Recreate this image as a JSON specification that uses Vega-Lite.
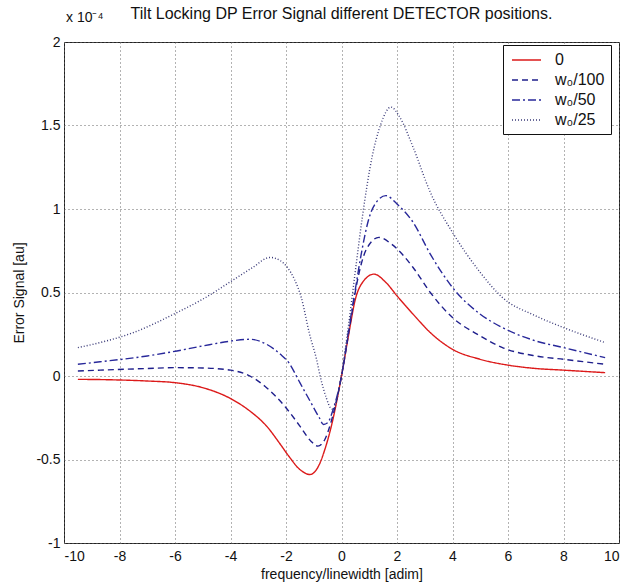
{
  "$schema": "https://vega.github.io/schema/vega-lite/v6.json",
  "width": 555,
  "height": 501,
  "autosize": {"type": "none"},
  "padding": {"left": 64, "top": 42, "right": 9, "bottom": 45},
  "background": "white",
  "config": {
    "font": "Liberation Sans",
    "view": {"stroke": "#222", "strokeWidth": 1},
    "axis": {
      "labelFont": "Liberation Sans",
      "titleFont": "Liberation Sans",
      "labelFontSize": 14,
      "titleFontSize": 14,
      "titleFontWeight": "normal",
      "labelColor": "#111",
      "titleColor": "#111",
      "domain": false,
      "ticks": false,
      "grid": true,
      "gridColor": "#666",
      "gridDash": [1, 3],
      "gridWidth": 1
    },
    "legend": {
      "title": null,
      "orient": "none",
      "legendX": 439,
      "legendY": 3,
      "fillColor": "white",
      "strokeColor": "#111",
      "padding": 6,
      "symbolType": "M-0.75,0H2.875",
      "symbolSize": 256,
      "symbolStrokeWidth": 1.4,
      "symbolFillColor": "transparent",
      "labelFontSize": 16,
      "labelFont": "Liberation Sans",
      "labelColor": "#111",
      "rowPadding": 3,
      "labelOffset": 28
    }
  },
  "title": {
    "text": "Tilt Locking DP Error Signal different DETECTOR positions.",
    "fontSize": 16,
    "fontWeight": "normal",
    "font": "Liberation Sans",
    "color": "#111",
    "anchor": "middle",
    "offset": 0,
    "dy": 11
  },
  "datasets": {
    "curves": [
      {"s": "0", "x": -9.5, "y": -0.02},
      {"s": "0", "x": -8.5, "y": -0.022},
      {"s": "0", "x": -7, "y": -0.03},
      {"s": "0", "x": -6, "y": -0.04},
      {"s": "0", "x": -5, "y": -0.07},
      {"s": "0", "x": -4, "y": -0.135},
      {"s": "0", "x": -3.3, "y": -0.21},
      {"s": "0", "x": -2.7, "y": -0.3},
      {"s": "0", "x": -2.2, "y": -0.41},
      {"s": "0", "x": -1.9, "y": -0.48},
      {"s": "0", "x": -1.5, "y": -0.56},
      {"s": "0", "x": -1.14, "y": -0.59},
      {"s": "0", "x": -0.8, "y": -0.53},
      {"s": "0", "x": -0.6, "y": -0.44},
      {"s": "0", "x": -0.38, "y": -0.31},
      {"s": "0", "x": 0, "y": 0},
      {"s": "0", "x": 0.25, "y": 0.24},
      {"s": "0", "x": 0.5, "y": 0.46},
      {"s": "0", "x": 0.8, "y": 0.57},
      {"s": "0", "x": 1.17, "y": 0.61},
      {"s": "0", "x": 1.6, "y": 0.56},
      {"s": "0", "x": 2, "y": 0.48},
      {"s": "0", "x": 2.58, "y": 0.37},
      {"s": "0", "x": 3.2, "y": 0.26},
      {"s": "0", "x": 4, "y": 0.16},
      {"s": "0", "x": 5, "y": 0.1},
      {"s": "0", "x": 6, "y": 0.065},
      {"s": "0", "x": 7, "y": 0.045},
      {"s": "0", "x": 8, "y": 0.035},
      {"s": "0", "x": 9.5, "y": 0.02},

      {"s": "w₀/100", "x": -9.5, "y": 0.03},
      {"s": "w₀/100", "x": -8.7, "y": 0.035},
      {"s": "w₀/100", "x": -7, "y": 0.045},
      {"s": "w₀/100", "x": -6, "y": 0.05},
      {"s": "w₀/100", "x": -5, "y": 0.048},
      {"s": "w₀/100", "x": -4, "y": 0.035},
      {"s": "w₀/100", "x": -3.3, "y": 0.0},
      {"s": "w₀/100", "x": -2.7, "y": -0.07},
      {"s": "w₀/100", "x": -2, "y": -0.19},
      {"s": "w₀/100", "x": -1.5, "y": -0.3},
      {"s": "w₀/100", "x": -1.1, "y": -0.39},
      {"s": "w₀/100", "x": -0.85, "y": -0.42},
      {"s": "w₀/100", "x": -0.6, "y": -0.38},
      {"s": "w₀/100", "x": -0.35, "y": -0.26},
      {"s": "w₀/100", "x": 0, "y": 0},
      {"s": "w₀/100", "x": 0.3, "y": 0.3},
      {"s": "w₀/100", "x": 0.56, "y": 0.56},
      {"s": "w₀/100", "x": 0.9, "y": 0.76},
      {"s": "w₀/100", "x": 1.35, "y": 0.83},
      {"s": "w₀/100", "x": 1.8, "y": 0.79},
      {"s": "w₀/100", "x": 2.58, "y": 0.65},
      {"s": "w₀/100", "x": 3.2, "y": 0.5},
      {"s": "w₀/100", "x": 4, "y": 0.35},
      {"s": "w₀/100", "x": 5, "y": 0.24},
      {"s": "w₀/100", "x": 5.8, "y": 0.17},
      {"s": "w₀/100", "x": 7, "y": 0.12},
      {"s": "w₀/100", "x": 8, "y": 0.1},
      {"s": "w₀/100", "x": 9.5, "y": 0.07},

      {"s": "w₀/50", "x": -9.5, "y": 0.07},
      {"s": "w₀/50", "x": -8.7, "y": 0.085},
      {"s": "w₀/50", "x": -7, "y": 0.12},
      {"s": "w₀/50", "x": -5.93, "y": 0.15},
      {"s": "w₀/50", "x": -5, "y": 0.18},
      {"s": "w₀/50", "x": -3.95, "y": 0.21},
      {"s": "w₀/50", "x": -3.3, "y": 0.22},
      {"s": "w₀/50", "x": -2.7, "y": 0.19},
      {"s": "w₀/50", "x": -2.2, "y": 0.13},
      {"s": "w₀/50", "x": -1.9, "y": 0.08},
      {"s": "w₀/50", "x": -1.5, "y": -0.04},
      {"s": "w₀/50", "x": -1.1, "y": -0.16},
      {"s": "w₀/50", "x": -0.8, "y": -0.25},
      {"s": "w₀/50", "x": -0.65, "y": -0.29},
      {"s": "w₀/50", "x": -0.5, "y": -0.28},
      {"s": "w₀/50", "x": -0.3, "y": -0.2},
      {"s": "w₀/50", "x": 0, "y": 0},
      {"s": "w₀/50", "x": 0.3, "y": 0.32},
      {"s": "w₀/50", "x": 0.5, "y": 0.52},
      {"s": "w₀/50", "x": 0.7, "y": 0.72},
      {"s": "w₀/50", "x": 1.0, "y": 0.95},
      {"s": "w₀/50", "x": 1.3, "y": 1.05},
      {"s": "w₀/50", "x": 1.6, "y": 1.08},
      {"s": "w₀/50", "x": 2.0, "y": 1.03},
      {"s": "w₀/50", "x": 2.58, "y": 0.92},
      {"s": "w₀/50", "x": 3.2, "y": 0.73},
      {"s": "w₀/50", "x": 4, "y": 0.53},
      {"s": "w₀/50", "x": 5, "y": 0.37},
      {"s": "w₀/50", "x": 5.8, "y": 0.29},
      {"s": "w₀/50", "x": 7, "y": 0.21},
      {"s": "w₀/50", "x": 8, "y": 0.17},
      {"s": "w₀/50", "x": 9.5, "y": 0.11},

      {"s": "w₀/25", "x": -9.5, "y": 0.17},
      {"s": "w₀/25", "x": -8.7, "y": 0.2},
      {"s": "w₀/25", "x": -7.5, "y": 0.26},
      {"s": "w₀/25", "x": -5.93, "y": 0.38},
      {"s": "w₀/25", "x": -5, "y": 0.46},
      {"s": "w₀/25", "x": -3.95, "y": 0.57},
      {"s": "w₀/25", "x": -3.2, "y": 0.65},
      {"s": "w₀/25", "x": -2.58, "y": 0.71},
      {"s": "w₀/25", "x": -2.2, "y": 0.69},
      {"s": "w₀/25", "x": -1.95, "y": 0.65},
      {"s": "w₀/25", "x": -1.7, "y": 0.58},
      {"s": "w₀/25", "x": -1.45, "y": 0.47},
      {"s": "w₀/25", "x": -1.15, "y": 0.25},
      {"s": "w₀/25", "x": -0.9, "y": 0.1},
      {"s": "w₀/25", "x": -0.77, "y": 0.0},
      {"s": "w₀/25", "x": -0.55, "y": -0.13},
      {"s": "w₀/25", "x": -0.4, "y": -0.19},
      {"s": "w₀/25", "x": -0.3, "y": -0.2},
      {"s": "w₀/25", "x": -0.15, "y": -0.13},
      {"s": "w₀/25", "x": 0, "y": 0.01},
      {"s": "w₀/25", "x": 0.25, "y": 0.3},
      {"s": "w₀/25", "x": 0.5, "y": 0.63},
      {"s": "w₀/25", "x": 0.75, "y": 0.95},
      {"s": "w₀/25", "x": 1.1, "y": 1.31},
      {"s": "w₀/25", "x": 1.4, "y": 1.5},
      {"s": "w₀/25", "x": 1.78, "y": 1.61},
      {"s": "w₀/25", "x": 2.1, "y": 1.55},
      {"s": "w₀/25", "x": 2.58, "y": 1.37},
      {"s": "w₀/25", "x": 3.2, "y": 1.1},
      {"s": "w₀/25", "x": 4, "y": 0.86},
      {"s": "w₀/25", "x": 5, "y": 0.62},
      {"s": "w₀/25", "x": 5.8, "y": 0.47},
      {"s": "w₀/25", "x": 7, "y": 0.36},
      {"s": "w₀/25", "x": 8, "y": 0.29},
      {"s": "w₀/25", "x": 9.5, "y": 0.2}
    ],
    "note": [{"label": "x 10⁻⁴"}]
  },
  "layer": [
    {
      "data": {"name": "curves"},
      "mark": {"type": "line", "interpolate": "monotone", "strokeWidth": 1.4},
      "encoding": {
        "x": {
          "field": "x", "type": "quantitative",
          "scale": {"domain": [-10, 10], "nice": false},
          "axis": {
            "values": [-10, -8, -6, -4, -2, 0, 2, 4, 6, 8, 10],
            "labelExpr": "'' + datum.value",
            "labelPadding": 6,
            "title": "frequency/linewidth [adim]",
            "titlePadding": 4
          }
        },
        "y": {
          "field": "y", "type": "quantitative",
          "scale": {"domain": [-1, 2], "nice": false},
          "axis": {
            "values": [-1, -0.5, 0, 0.5, 1, 1.5, 2],
            "labelExpr": "'' + datum.value",
            "labelPadding": 4,
            "title": "Error Signal [au]",
            "titlePadding": 9
          }
        },
        "color": {
          "field": "s", "type": "nominal",
          "scale": {
            "domain": ["0", "w₀/100", "w₀/50", "w₀/25"],
            "range": ["#dc1a1a", "#1f1f8c", "#28289a", "#3a3a78"]
          }
        },
        "strokeDash": {
          "field": "s", "type": "nominal",
          "scale": {
            "domain": ["0", "w₀/100", "w₀/50", "w₀/25"],
            "range": [[1, 0], [6, 4], [8, 3, 2, 3], [1, 2]]
          }
        }
      }
    },
    {
      "data": {"name": "note"},
      "mark": {"type": "text", "align": "left", "baseline": "bottom", "dx": 2, "dy": -17, "fontSize": 14, "font": "Liberation Sans", "color": "#111"},
      "encoding": {
        "x": {"datum": -10, "type": "quantitative"},
        "y": {"datum": 2, "type": "quantitative"},
        "text": {"field": "label", "type": "nominal"}
      }
    }
  ]
}
